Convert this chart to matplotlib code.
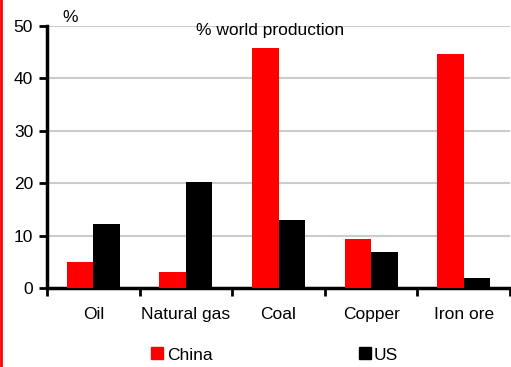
import matplotlib
matplotlib.use("Agg")
import matplotlib.pyplot as plt
from matplotlib.lines import Line2D
import numpy as np

plt.rcParams['font.family'] = ['Liberation Sans', 'DejaVu Sans']

categories = ["Oil", "Natural gas", "Coal", "Copper", "Iron ore"]
china = [4.9, 3.0, 45.8, 9.3, 44.7]
us = [12.2, 20.2, 13.0, 6.9, 1.9]

fig = plt.figure(figsize=(5.11, 3.67), dpi=100)
ax = fig.add_axes([47/511, 79/367, 463/511, 262/367])

x = np.arange(len(categories))
w = 0.286
ax.bar(x - w/2, china, w, color="#ff0000", zorder=3)
ax.bar(x + w/2, us, w, color="#000000", zorder=3)

ax.set_xlim(-0.5, len(categories) - 0.5)
ax.set_ylim(0, 50)
ax.set_yticks(range(0, 51, 10))
ax.yaxis.grid(True, color="#cccccc", linewidth=1.5, zorder=0)
ax.set_axisbelow(True)

# category boundaries as ticks, labels in middle
ax.set_xticks(np.arange(-0.5, len(categories), 1.0))
ax.set_xticklabels([])
ax.set_xticks(x, minor=True)
ax.set_xticklabels(categories, minor=True)
ax.tick_params(axis='x', which='minor', length=0, pad=14, labelsize=12.5)
ax.tick_params(axis='x', which='major', length=6, width=2, direction='out')
ax.tick_params(axis='y', length=6, width=2, labelsize=12.5, pad=4)

for s in ["top", "right"]:
    ax.spines[s].set_visible(False)
for s in ["left", "bottom"]:
    ax.spines[s].set_linewidth(2.5)

fig.text(70/511, 1 - 17/367, "%", fontsize=12.5, ha="center", va="center")
fig.text(270/511, 1 - 31/367, "% world production", fontsize=12.5, ha="center", va="center")

# legend
handles = [Line2D([], [], marker='s', color='#ff0000', linestyle='none', markersize=8),
           Line2D([], [], marker='s', color='#000000', linestyle='none', markersize=8)]
leg = fig.legend(handles, ["China", "US"], loc="center", bbox_to_anchor=(274/511, 1 - 355/367),
                 ncol=2, frameon=False, fontsize=12.5, handletextpad=0.1, columnspacing=8.3,
                 handlelength=0.9)

# red border on left edge
fig.add_artist(Line2D([1/511, 1/511], [0, 1], color="#ff0000", linewidth=2, transform=fig.transFigure))

fig.savefig("out.png", dpi=100)
